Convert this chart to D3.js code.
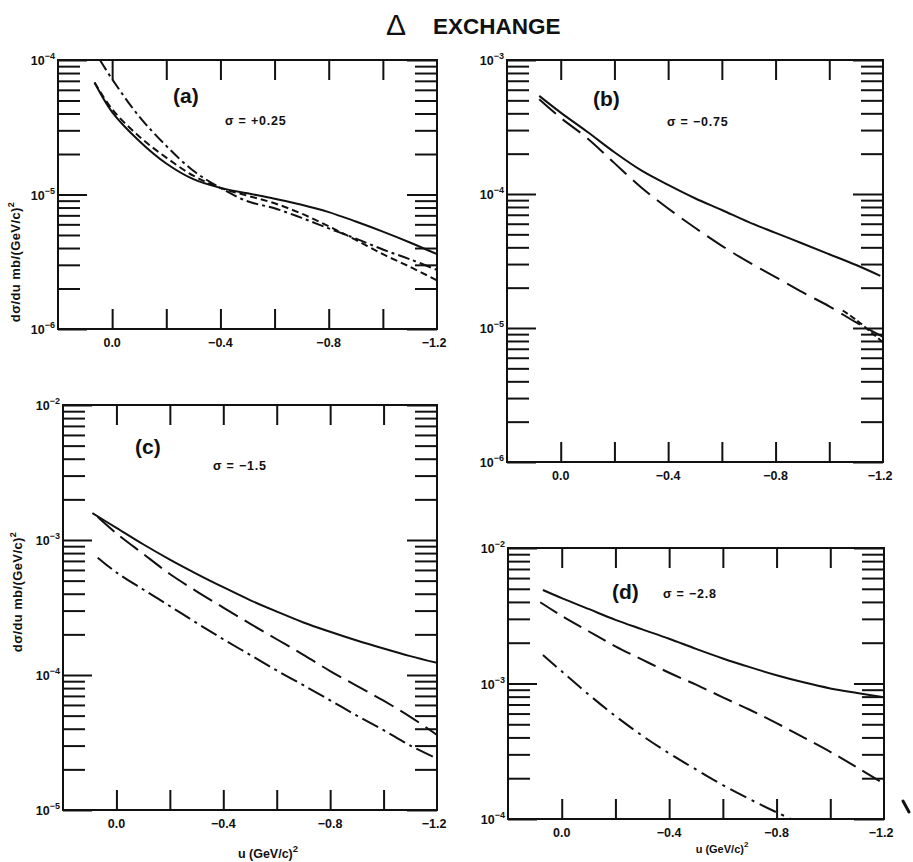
<!DOCTYPE html>
<html><head><meta charset="utf-8">
<script src="https://cdn.jsdelivr.net/npm/d3@7"></script>
<style>
body{margin:0;background:#fff}
text{font-family:"Liberation Sans",Arial,sans-serif;font-weight:bold;fill:#111}
</style>
</head><body>
<svg id="chart" width="913" height="862"></svg>
<script>
// ---------------- DATA ----------------
const xTickValues = [0, -0.2, -0.4, -0.6, -0.8, -1.0];
const xTickLabelValues = [0, -0.4, -0.8, -1.2];
const xTickLabels = ["0.0", "−0.4", "−0.8", "−1.2"];

// Panel (a), sigma = +0.25
const aSolidU  = [0.065, 0, -0.1, -0.2, -0.3, -0.4, -0.5, -0.6, -0.7, -0.8, -0.9, -1.0, -1.1, -1.2];
const aSolidV  = [6.8e-5, 4.1e-5, 2.5e-5, 1.7e-5, 1.3e-5, 1.12e-5, 1.02e-5, 9.3e-6, 8.4e-6, 7.4e-6, 6.3e-6, 5.3e-6, 4.4e-6, 3.6e-6];
const aDashU   = [0.065, 0, -0.1, -0.2, -0.3, -0.4, -0.5, -0.6, -0.7, -0.8, -0.9, -1.0, -1.1, -1.2];
const aDashV   = [6.8e-5, 4.3e-5, 2.7e-5, 1.88e-5, 1.38e-5, 1.12e-5, 9.8e-6, 8.6e-6, 7.2e-6, 5.8e-6, 4.6e-6, 3.6e-6, 2.9e-6, 2.3e-6];
const aDotU    = [0.045, 0, -0.1, -0.2, -0.3, -0.4, -0.5, -0.6, -0.7, -0.8, -0.9, -1.0, -1.1, -1.2];
const aDotV    = [1.0e-4, 7.2e-5, 3.8e-5, 2.3e-5, 1.5e-5, 1.12e-5, 8.9e-6, 7.9e-6, 6.7e-6, 5.6e-6, 4.7e-6, 3.9e-6, 3.3e-6, 2.75e-6];

// Panel (b), sigma = -0.75
const bSolidU  = [0.08, 0, -0.1, -0.2, -0.3, -0.4, -0.5, -0.6, -0.7, -0.8, -0.9, -1.0, -1.1, -1.19];
const bSolidV  = [5.4e-4, 4.05e-4, 2.9e-4, 2.05e-4, 1.5e-4, 1.17e-4, 9.3e-5, 7.6e-5, 6.17e-5, 5.13e-5, 4.27e-5, 3.55e-5, 2.95e-5, 2.45e-5];
const bDashU   = [0.08, 0, -0.1, -0.2, -0.3, -0.4, -0.5, -0.6, -0.7, -0.8, -0.9, -1.0, -1.1, -1.2];
const bDashV   = [5.1e-4, 3.7e-4, 2.6e-4, 1.7e-4, 1.12e-4, 7.8e-5, 5.6e-5, 4.1e-5, 3.1e-5, 2.4e-5, 1.85e-5, 1.45e-5, 1.1e-5, 8.6e-6];
const bDotU    = [-1.05, -1.1, -1.2];
const bDotV    = [1.35e-5, 1.15e-5, 7.8e-6];

// Panel (c), sigma = -1.5
const cSolidU  = [0.09, 0, -0.1, -0.2, -0.3, -0.4, -0.5, -0.6, -0.7, -0.8, -0.9, -1.0, -1.1, -1.2];
const cSolidV  = [1.58e-3, 1.23e-3, 9.3e-4, 7.16e-4, 5.62e-4, 4.47e-4, 3.59e-4, 2.95e-4, 2.45e-4, 2.09e-4, 1.8e-4, 1.57e-4, 1.38e-4, 1.23e-4];
const cDashU   = [0.07, 0, -0.1, -0.2, -0.3, -0.4, -0.5, -0.6, -0.7, -0.8, -0.9, -1.0, -1.1, -1.2];
const cDashV   = [1.48e-3, 1.12e-3, 7.9e-4, 5.6e-4, 4.17e-4, 3.16e-4, 2.4e-4, 1.84e-4, 1.41e-4, 1.07e-4, 8.3e-5, 6.45e-5, 4.9e-5, 3.6e-5];
const cDotU    = [0.07, 0, -0.1, -0.2, -0.3, -0.4, -0.5, -0.6, -0.7, -0.8, -0.9, -1.0, -1.1, -1.2];
const cDotV    = [7.4e-4, 5.75e-4, 4.3e-4, 3.24e-4, 2.43e-4, 1.84e-4, 1.41e-4, 1.08e-4, 8.4e-5, 6.5e-5, 5.0e-5, 3.9e-5, 3.0e-5, 2.4e-5];

// Panel (d), sigma = -2.8
const dSolidU  = [0.07, 0, -0.1, -0.2, -0.3, -0.4, -0.5, -0.6, -0.7, -0.8, -0.9, -1.0, -1.1, -1.2];
const dSolidV  = [4.9e-3, 4.27e-3, 3.55e-3, 2.95e-3, 2.51e-3, 2.14e-3, 1.8e-3, 1.53e-3, 1.32e-3, 1.15e-3, 1.02e-3, 9.2e-4, 8.5e-4, 7.9e-4];
const dDashU   = [0.08, 0, -0.1, -0.2, -0.3, -0.4, -0.5, -0.6, -0.7, -0.8, -0.9, -1.0, -1.1, -1.2];
const dDashV   = [3.98e-3, 3.16e-3, 2.43e-3, 1.88e-3, 1.5e-3, 1.2e-3, 9.8e-4, 7.9e-4, 6.4e-4, 5.1e-4, 4.0e-4, 3.13e-4, 2.4e-4, 1.82e-4];
const dDotU    = [0.07, 0, -0.1, -0.2, -0.3, -0.4, -0.5, -0.6, -0.7, -0.8, -0.9];
const dDotV    = [1.62e-3, 1.23e-3, 8.3e-4, 5.75e-4, 4.12e-4, 3.05e-4, 2.32e-4, 1.78e-4, 1.4e-4, 1.12e-4, 9.1e-5];

const panelNames  = ["(a)", "(b)", "(c)", "(d)"];
const sigmaLabels = ["σ = +0.25", "σ = −0.75", "σ = −1.5", "σ = −2.8"];
const yExpRanges  = [[-6, -4], [-6, -3], [-5, -2], [-4, -2]];

// ---------------- LAYOUT ----------------
const layout = [
  {x0:58,  x1:437, y0:60,  y1:329, nameX:173, nameY:103, sigX:225, sigY:125,
   dash:{dashed:"7,4", dot:"12,4,3,4"}},
  {x0:507, x1:883, y0:60,  y1:462, nameX:593, nameY:106, sigX:667, sigY:126,
   dash:{dashed:"22,9", dot:"6,3"}},
  {x0:63,  x1:437, y0:405, y1:810, nameX:135, nameY:454, sigX:213, sigY:470,
   dash:{dashed:"22,8", dot:"18,5,3,5"}},
  {x0:508, x1:884, y0:548, y1:819, nameX:612, nameY:599, sigX:663, sigY:598,
   dash:{dashed:"20,8", dot:"18,6,3,6"}}
];
const series = [
  [{u:aSolidU,v:aSolidV,t:"solid"},{u:aDashU,v:aDashV,t:"dashed"},{u:aDotU,v:aDotV,t:"dot"}],
  [{u:bSolidU,v:bSolidV,t:"solid"},{u:bDashU,v:bDashV,t:"dashed"},{u:bDotU,v:bDotV,t:"dot"}],
  [{u:cSolidU,v:cSolidV,t:"solid"},{u:cDashU,v:cDashV,t:"dashed"},{u:cDotU,v:cDotV,t:"dot"}],
  [{u:dSolidU,v:dSolidV,t:"solid"},{u:dDashU,v:dDashV,t:"dashed"},{u:dDotU,v:dDotV,t:"dot"}]
];

const svg = d3.select("#chart");
const INK = "#111";

// Title
svg.append("text").attr("x", 386).attr("y", 35).style("font-size","30px").style("font-weight","normal").text("Δ");
svg.append("text").attr("x", 433).attr("y", 34).style("font-size","22.5px").text("EXCHANGE");

layout.forEach((L, i) => {
  const x = d3.scaleLinear().domain([0.2, -1.2]).range([L.x0, L.x1]);
  const [e0, e1] = yExpRanges[i];
  const y = d3.scaleLog().domain([Math.pow(10, e0), Math.pow(10, e1)]).range([L.y1, L.y0]);
  const g = svg.append("g");

  const decades = d3.range(e0, e1 + 1).map(e => Math.pow(10, e));
  const minors = [];
  for (let e = e0; e < e1; e++) for (let k = 2; k <= 9; k++) minors.push(k * Math.pow(10, e));

  const styleAxis = sel => {
    sel.select(".domain").remove();
    sel.selectAll("line").attr("stroke", INK).attr("stroke-width", 2);
    sel.selectAll("text").remove();
  };
  // Y ticks, inward, both sides
  g.append("g").attr("transform", `translate(${L.x0},0)`)
    .call(d3.axisLeft(y).tickValues(minors).tickSize(-22).tickFormat("")).call(styleAxis);
  g.append("g").attr("transform", `translate(${L.x0},0)`)
    .call(d3.axisLeft(y).tickValues(decades).tickSize(-29).tickFormat("")).call(styleAxis);
  g.append("g").attr("transform", `translate(${L.x1},0)`)
    .call(d3.axisRight(y).tickValues(minors).tickSize(-22).tickFormat("")).call(styleAxis);
  g.append("g").attr("transform", `translate(${L.x1},0)`)
    .call(d3.axisRight(y).tickValues(decades).tickSize(-30).tickFormat("")).call(styleAxis);
  // X ticks inward top/bottom
  g.append("g").attr("transform", `translate(0,${L.y0})`)
    .call(d3.axisTop(x).tickValues(xTickValues).tickSize(-20).tickFormat("")).call(styleAxis);
  g.append("g").attr("transform", `translate(0,${L.y1})`)
    .call(d3.axisBottom(x).tickValues(xTickValues).tickSize(-20).tickFormat("")).call(styleAxis);

  // X tick labels
  xTickLabelValues.forEach((v, j) => {
    g.append("text").attr("x", x(v) + (j === 3 ? -3 : 0)).attr("y", L.y1 + 18)
      .attr("text-anchor", "middle").style("font-size", "12.5px").text(xTickLabels[j]);
  });
  // Y decade labels
  decades.forEach(v => {
    const e = Math.round(Math.log10(v));
    const t = g.append("text").attr("x", L.x0 - 3).attr("y", y(v) + 5)
      .attr("text-anchor", "end").style("font-size", "12.5px");
    t.append("tspan").text("10");
    t.append("tspan").attr("dy", -6).style("font-size", "9px").text("−" + Math.abs(e));
  });

  // Frame
  g.append("rect").attr("x", L.x0).attr("y", L.y0).attr("width", L.x1 - L.x0).attr("height", L.y1 - L.y0)
    .attr("fill", "none").attr("stroke", INK).attr("stroke-width", 2);

  // Curves
  const clipId = "clip" + i;
  svg.append("clipPath").attr("id", clipId).append("rect")
    .attr("x", L.x0).attr("y", L.y0).attr("width", L.x1 - L.x0).attr("height", L.y1 - L.y0);
  const line = d3.line().x(d => x(d[0])).y(d => y(d[1])).curve(d3.curveCatmullRom.alpha(0.5));
  series[i].forEach(s => {
    const pts = s.u.map((u, k) => [u, s.v[k]]);
    g.append("path").attr("d", line(pts)).attr("clip-path", `url(#${clipId})`)
      .attr("fill", "none").attr("stroke", INK).attr("stroke-width", 2)
      .attr("stroke-dasharray", s.t === "solid" ? null : L.dash[s.t]);
  });

  // Panel labels
  g.append("text").attr("x", L.nameX).attr("y", L.nameY).style("font-size", "21px").text(panelNames[i]);
  g.append("text").attr("x", L.sigX).attr("y", L.sigY).style("font-size", "12.5px")
    .style("letter-spacing", "0.8px").text(sigmaLabels[i]);
});

// Axis titles
const yTitle = (cx, cy) => {
  const t = svg.append("text").attr("transform", `translate(${cx},${cy}) rotate(-90)`)
    .attr("text-anchor", "middle").style("font-size", "13px").style("letter-spacing", "0.4px");
  t.append("tspan").text("dσ/du mb/(GeV/c)");
  t.append("tspan").attr("dy", -6).style("font-size", "9px").text("2");
};
yTitle(20, 262);
yTitle(22, 592);
const xTitle = (cx, cy, fs) => {
  const t = svg.append("text").attr("x", cx).attr("y", cy).attr("text-anchor", "middle").style("font-size", fs + "px");
  t.append("tspan").text("u  (GeV/c)");
  t.append("tspan").attr("dy", -6).style("font-size", (fs - 3) + "px").text("2");
};
xTitle(268, 858, 12.5);
xTitle(722, 853, 11);

// small stray mark at lower right of the original figure
svg.append("line").attr("x1", 903).attr("y1", 801).attr("x2", 909).attr("y2", 812)
  .attr("stroke", INK).attr("stroke-width", 3).attr("stroke-linecap", "round");
</script>
</body></html>
